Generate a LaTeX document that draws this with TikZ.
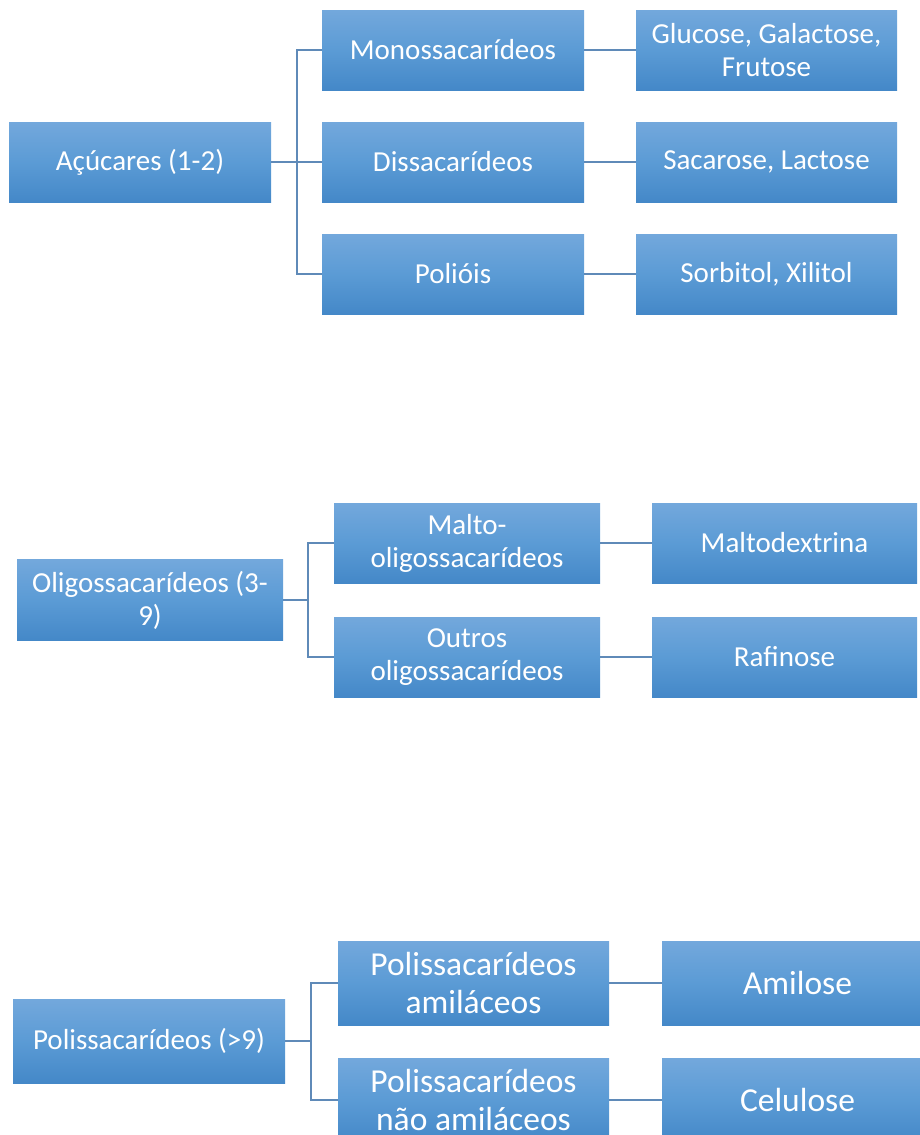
\documentclass[tikz,border=0pt]{standalone}
\usepackage{fontspec}
\setmainfont{Carlito}
\definecolor{boxtop}{RGB}{115,168,220}
\definecolor{boxmid}{RGB}{91,155,213}
\definecolor{boxbot}{RGB}{68,136,200}
\definecolor{linkc}{RGB}{95,138,184}
\tikzset{
  box/.style={rectangle, inner sep=0pt, text=white, align=center,
    top color=boxtop, bottom color=boxbot, middle color=boxmid,
    font=\fontsize{29}{33}\selectfont},
  bigbox/.style={box, font=\fontsize{33.5}{38}\selectfont},
  link/.style={draw=linkc, line width=1.3pt}
}
\begin{document}
\begin{tikzpicture}[x=1pt,y=-1pt]
\useasboundingbox (0,0) rectangle (920,1135);
% group 1
\node[box, minimum width=262pt, minimum height=80pt] (acu) at (140,162) {Açúcares (1-2)};
\node[box, minimum width=262pt, minimum height=80pt] (mono) at (453,50) {Monossacarídeos};
\node[box, minimum width=262pt, minimum height=80pt] (dis) at (453,162) {Dissacarídeos};
\node[box, minimum width=262pt, minimum height=80pt] (poli) at (453,274) {Polióis};
\node[box, minimum width=261pt, minimum height=80pt] (glu) at (766.5,50) {Glucose, Galactose,\\Frutose};
\node[box, minimum width=261pt, minimum height=80pt] (sac) at (766.5,162) {Sacarose, Lactose};
\node[box, minimum width=261pt, minimum height=80pt] (sor) at (766.5,274) {Sorbitol, Xilitol};
\coordinate (t1) at (297,162);
\draw[link] (acu.east) -- (dis.west);
\draw[link] (mono.west) -| (t1) |- (poli.west);
\draw[link] (mono.east) -- (glu.west);
\draw[link] (dis.east) -- (sac.west);
\draw[link] (poli.east) -- (sor.west);
% group 2
\node[box, minimum width=266pt, minimum height=81pt] (oli) at (150,600) {Oligossacarídeos (3-\\9)};
\node[box, minimum width=266pt, minimum height=80pt] (malto) at (467,543) {Malto-\\oligossacarídeos};
\node[box, minimum width=266pt, minimum height=80pt] (outros) at (467,657) {Outros\\oligossacarídeos};
\node[box, minimum width=265pt, minimum height=80pt] (mdx) at (784.5,543) {Maltodextrina};
\node[box, minimum width=265pt, minimum height=80pt] (raf) at (784.5,657) {Rafinose};
\coordinate (t2) at (308,600);
\draw[link] (oli.east) -- (t2);
\draw[link] (malto.west) -| (t2) |- (outros.west);
\draw[link] (malto.east) -- (mdx.west);
\draw[link] (outros.east) -- (raf.west);
% group 3
\node[box, minimum width=272pt, minimum height=84pt] (pol) at (149,1041) {Polissacarídeos (>9)};
\node[bigbox, minimum width=271pt, minimum height=84pt] (amil) at (473.5,983) {Polissacarídeos\\amiláceos};
\node[bigbox, minimum width=271pt, minimum height=84pt] (namil) at (473.5,1100) {Polissacarídeos\\não amiláceos};
\node[bigbox, minimum width=271pt, minimum height=84pt] (amilose) at (797.5,983) {Amilose};
\node[bigbox, minimum width=271pt, minimum height=84pt] (cel) at (797.5,1100) {Celulose};
\coordinate (t3) at (311,1041);
\draw[link] (pol.east) -- (t3);
\draw[link] (amil.west) -| (t3) |- (namil.west);
\draw[link] (amil.east) -- (amilose.west);
\draw[link] (namil.east) -- (cel.west);
\end{tikzpicture}
\end{document}
